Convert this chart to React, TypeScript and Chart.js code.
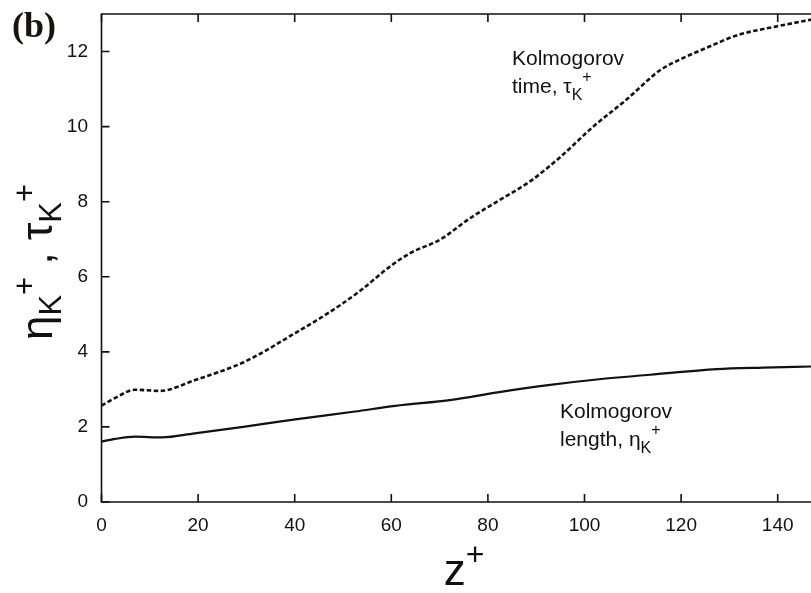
import React, { useEffect, useRef } from 'react';
import { Chart, registerables } from 'chart.js';
Chart.register(...registerables);

// Kolmogorov time, tau_K^+ (dashed)
const zTau = [0, 2.8, 6.9, 12.1, 19.4, 29.7, 40.1, 46.9, 53.5, 59.7, 63.9, 70.1, 76.3, 82.5, 88.7, 94.9, 101.8, 108.7, 115.6, 119.8, 126, 131.5, 139.8, 147];
const tauK = [2.57, 2.77, 2.99, 2.96, 3.25, 3.74, 4.5, 5.03, 5.62, 6.27, 6.63, 6.99, 7.56, 8.05, 8.54, 9.18, 10.0, 10.72, 11.5, 11.79, 12.14, 12.43, 12.67, 12.85];

// Kolmogorov length, eta_K^+ (solid)
const zEta = [0, 2.8, 6.9, 12.5, 19.3, 29.7, 40.1, 52.5, 60.8, 72.5, 82, 92.9, 103, 113.6, 127.4, 137, 147];
const etaK = [1.61, 1.68, 1.74, 1.72, 1.83, 2.01, 2.2, 2.41, 2.56, 2.72, 2.92, 3.12, 3.27, 3.39, 3.54, 3.58, 3.61];

const xTickValues = [0, 20, 40, 60, 80, 100, 120, 140];
const yTickValues = [0, 2, 4, 6, 8, 10, 12];

const SANS = '"Liberation Sans", Arial, Helvetica, sans-serif';

type Part = { t: string; size: number; dy: number; dx?: number };

function drawRich(ctx: CanvasRenderingContext2D, parts: Part[], x: number, y: number) {
  let cx = x;
  for (const p of parts) {
    ctx.font = `${p.size}px ${SANS}`;
    cx += p.dx || 0;
    ctx.fillText(p.t, cx, y + p.dy);
    cx += ctx.measureText(p.t).width;
  }
  return cx - x;
}

function richWidth(ctx: CanvasRenderingContext2D, parts: Part[]) {
  let w = 0;
  for (const p of parts) {
    ctx.font = `${p.size}px ${SANS}`;
    w += (p.dx || 0) + ctx.measureText(p.t).width;
  }
  return w;
}

const decor = {
  id: 'decor',
  afterDraw(chart: any) {
    const ctx: CanvasRenderingContext2D = chart.ctx;
    const { left, right, top, bottom } = chart.chartArea;
    const xs = chart.scales.x;
    const ys = chart.scales.y;
    ctx.save();
    ctx.strokeStyle = '#111';
    ctx.lineWidth = 1.6;
    ctx.beginPath();
    ctx.moveTo(right, top);
    ctx.lineTo(left, top);
    ctx.lineTo(left, bottom);
    ctx.lineTo(right, bottom);
    ctx.lineTo(right, top);
    ctx.stroke();
    const tl = 8;
    ctx.beginPath();
    xs.ticks.forEach((t: any) => {
      const p = xs.getPixelForValue(t.value);
      ctx.moveTo(p, bottom);
      ctx.lineTo(p, bottom - tl);
      ctx.moveTo(p, top);
      ctx.lineTo(p, top + tl);
    });
    ys.ticks.forEach((t: any) => {
      const p = ys.getPixelForValue(t.value);
      ctx.moveTo(left, p);
      ctx.lineTo(left + tl, p);
      ctx.moveTo(right, p);
      ctx.lineTo(right - tl, p);
    });
    ctx.stroke();

    ctx.fillStyle = '#111';
    ctx.textBaseline = 'alphabetic';
    ctx.textAlign = 'left';

    // annotations
    ctx.font = `21px ${SANS}`;
    ctx.fillText('Kolmogorov', 512, 65);
    drawRich(ctx, [
      { t: 'time, \u03C4', size: 21, dy: 0 },
      { t: 'K', size: 16, dy: 7 },
      { t: '+', size: 16, dy: -11 },
    ], 512, 93);
    ctx.font = `21px ${SANS}`;
    ctx.fillText('Kolmogorov', 560, 418);
    drawRich(ctx, [
      { t: 'length, \u03B7', size: 21, dy: 0 },
      { t: 'K', size: 16, dy: 7 },
      { t: '+', size: 16, dy: -11 },
    ], 560, 446);

    // x axis title
    const xParts: Part[] = [
      { t: 'z', size: 44, dy: 0 },
      { t: '+', size: 32, dy: -20 },
    ];
    const xw = richWidth(ctx, xParts);
    drawRich(ctx, xParts, 464 - xw / 2, 585);

    // y axis title (rotated)
    const yParts: Part[] = [
      { t: '\u03B7', size: 44, dy: 0 },
      { t: 'K', size: 31, dy: 9 },
      { t: '+', size: 31, dy: -17 },
      { t: ' , \u03C4', size: 44, dy: 0 },
      { t: 'K', size: 31, dy: 9 },
      { t: '+', size: 31, dy: -17 },
    ];
    ctx.save();
    ctx.translate(52, 262);
    ctx.rotate(-Math.PI / 2);
    const yw = richWidth(ctx, yParts);
    drawRich(ctx, yParts, -yw / 2, 0);
    ctx.restore();

    // panel label
    ctx.font = `bold 36px "Liberation Serif", "Times New Roman", serif`;
    ctx.fillStyle = '#1a140f';
    ctx.fillText('(b)', 12, 37);
    ctx.restore();
  },
};

export default function App() {
  const ref = useRef<HTMLCanvasElement | null>(null);
  useEffect(() => {
    document.body.style.margin = '0';
    document.body.style.overflow = 'hidden';
    const canvas = ref.current!;
    const chart = new Chart(canvas, {
      type: 'line',
      data: {
        datasets: [
          {
            label: 'tau',
            data: zTau.map((z, i) => ({ x: z, y: tauK[i] })),
            borderColor: '#111',
            borderWidth: 2.6,
            borderDash: [4.5, 2.5],
            pointRadius: 0,
            cubicInterpolationMode: 'monotone',
            fill: false,
          },
          {
            label: 'eta',
            data: zEta.map((z, i) => ({ x: z, y: etaK[i] })),
            borderColor: '#111',
            borderWidth: 2.2,
            pointRadius: 0,
            cubicInterpolationMode: 'monotone',
            fill: false,
          },
        ],
      },
      options: {
        animation: false,
        responsive: false,
        devicePixelRatio: 1,
        layout: { padding: { top: 14, left: 0, right: 14, bottom: 0 } },
        plugins: { legend: { display: false }, tooltip: { enabled: false } },
        scales: {
          x: {
            type: 'linear',
            min: 0,
            max: 150,
            grid: { display: false, drawTicks: false },
            border: { display: false },
            ticks: {
              padding: 12,
              color: '#111',
              font: { size: 19, family: SANS },
              maxRotation: 0,
              autoSkip: false,
            },
            afterBuildTicks: (s: any) => {
              s.ticks = xTickValues.map((v) => ({ value: v }));
            },
            afterFit: (s: any) => {
              s.height = 91;
              s.paddingLeft = 0;
              s.paddingRight = 0;
            },
          },
          y: {
            type: 'linear',
            min: 0,
            max: 13,
            grid: { display: false, drawTicks: false },
            border: { display: false },
            ticks: {
              padding: 13.5,
              color: '#111',
              font: { size: 19, family: SANS },
              autoSkip: false,
            },
            afterBuildTicks: (s: any) => {
              s.ticks = yTickValues.map((v) => ({ value: v }));
            },
            afterFit: (s: any) => {
              s.width = 101.5;
              s.paddingTop = 0;
              s.paddingBottom = 0;
            },
          },
        },
      },
      plugins: [decor],
    } as any);
    return () => chart.destroy();
  }, []);
  return (
    <div style={{ position: 'fixed', left: 0, top: 0, width: 811, height: 593, overflow: 'hidden', background: '#fff' }}>
      <canvas ref={ref} width={840} height={593} style={{ width: 840, height: 593, display: 'block' }} />
    </div>
  );
}
